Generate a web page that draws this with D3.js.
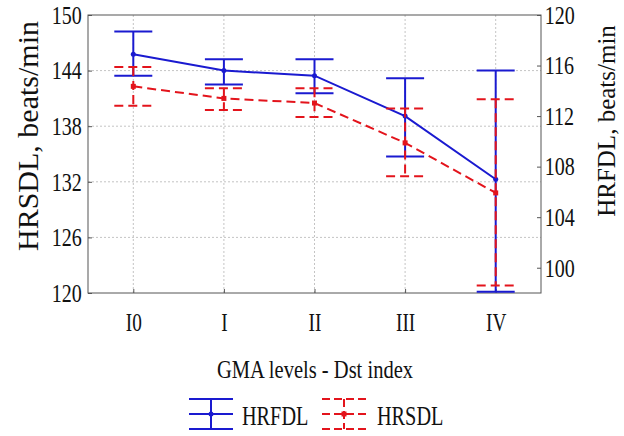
<!DOCTYPE html>
<html>
<head>
<meta charset="utf-8">
<script src="https://cdn.jsdelivr.net/npm/d3@7"></script>
<style>
  body { margin: 0; background: #fff; }
  text { font-family: "Liberation Serif", "Times New Roman", serif; fill: #111; }
</style>
</head>
<body>
<div id="chart-container"></div>
<script>
const categories = ['I0', 'I', 'II', 'III', 'IV'];

// HRFDL (blue, right axis)
const hrfdlMean = [116.9, 115.6, 115.2, 112.0, 107.0];
const hrfdlUpper = [118.7, 116.5, 116.5, 115.0, 115.6];
const hrfdlLower = [115.2, 114.5, 113.8, 108.8, 98.1];

// HRSDL (red, left axis)
const hrsdlMean = [142.3, 141.0, 140.5, 136.2, 130.8];
const hrsdlUpper = [144.4, 142.1, 142.1, 139.9, 140.9];
const hrsdlLower = [140.2, 139.75, 139.0, 132.6, 120.8];

const leftTicks = [120, 126, 132, 138, 144, 150];
const rightTicks = [100, 104, 108, 112, 116, 120];

const blue = '#1a1ad0';
const red = '#e3141c';
const squeeze = 'scale(0.77,1)';

displayChart();

function displayChart() {
  const width = 624;
  const height = 436;
  const margin = { top: 15, right: 83, bottom: 143, left: 88 };
  const plotRight = width - margin.right;
  const plotBottom = height - margin.bottom;

  const svg = d3.select('#chart-container')
      .append('svg')
      .attr('width', width)
      .attr('height', height);

  const x = d3.scalePoint(categories, [margin.left, plotRight]).padding(0.5);
  const yLeft = d3.scaleLinear([120, 150], [plotBottom, margin.top]);
  const yRight = d3.scaleLinear([98, 120], [plotBottom, margin.top]);

  // grid
  svg.append('g')
      .selectAll('line')
      .data(leftTicks.slice(1, -1))
      .join('line')
      .attr('x1', margin.left).attr('x2', plotRight)
      .attr('y1', d => yLeft(d)).attr('y2', d => yLeft(d))
      .attr('stroke', '#c4c4c4')
      .attr('stroke-dasharray', '2,2');

  svg.append('g')
      .selectAll('line')
      .data(categories)
      .join('line')
      .attr('x1', d => x(d)).attr('x2', d => x(d))
      .attr('y1', margin.top).attr('y2', plotBottom)
      .attr('stroke', '#c4c4c4')
      .attr('stroke-dasharray', '2,2');

  // axes
  const leftAxis = svg.append('g')
      .attr('transform', `translate(${margin.left},0)`)
      .call(d3.axisLeft(yLeft).tickValues(leftTicks).tickSize(-4).tickSizeOuter(0).tickPadding(8));

  const rightAxis = svg.append('g')
      .attr('transform', `translate(${plotRight},0)`)
      .call(d3.axisRight(yRight).tickValues(rightTicks).tickSize(-4).tickSizeOuter(0).tickPadding(5));

  const bottomAxis = svg.append('g')
      .attr('transform', `translate(0,${plotBottom})`)
      .call(d3.axisBottom(x).tickSize(-4).tickSizeOuter(0));

  [leftAxis, rightAxis, bottomAxis].forEach(g => {
    g.selectAll('.domain').remove();
    g.selectAll('.tick line').attr('stroke', '#555');
    g.selectAll('text')
        .attr('font-family', '"Liberation Serif", serif')
        .attr('font-size', 26)
        .attr('fill', '#111')
        .attr('transform', squeeze);
  });
  bottomAxis.selectAll('text')
      .attr('y', 29)
      .attr('dy', '0.35em')
      .attr('font-size', 25);

  // frame
  svg.append('rect')
      .attr('x', margin.left)
      .attr('y', margin.top)
      .attr('width', plotRight - margin.left)
      .attr('height', plotBottom - margin.top)
      .attr('fill', 'none')
      .attr('stroke', '#555')
      .attr('stroke-width', 1);

  drawSeries(svg, x, yRight, hrfdlMean, hrfdlUpper, hrfdlLower, blue, null, 'circle');
  drawSeries(svg, x, yLeft, hrsdlMean, hrsdlUpper, hrsdlLower, red, '9,5', 'square');

  // axis titles
  svg.append('text')
      .text('HRSDL, beats/min')
      .attr('transform', 'translate(38,136) rotate(-90)')
      .attr('text-anchor', 'middle')
      .attr('font-size', 30);

  svg.append('text')
      .text('HRFDL, beats/min')
      .attr('transform', 'translate(615,121) rotate(-90)')
      .attr('text-anchor', 'middle')
      .attr('font-size', 25);

  svg.append('g')
      .attr('transform', 'translate(315,378)')
    .append('text')
      .text('GMA levels - Dst index')
      .attr('text-anchor', 'middle')
      .attr('font-size', 26)
      .attr('transform', 'scale(0.79,1)');

  displayLegend(svg);
}

function drawSeries(svg, x, y, mean, upper, lower, color, dash, marker) {
  const g = svg.append('g');
  const capHalf = 19;
  const rows = categories.map((c, i) => ({ c, m: mean[i], hi: upper[i], lo: lower[i] }));

  const line = d3.line()
      .x(d => x(d.c))
      .y(d => y(d.m));

  g.append('path')
      .datum(rows)
      .attr('d', line)
      .attr('fill', 'none')
      .attr('stroke', color)
      .attr('stroke-width', 2)
      .attr('stroke-dasharray', dash);

  g.selectAll('.bar')
      .data(rows)
      .join('line')
      .attr('x1', d => x(d.c)).attr('x2', d => x(d.c))
      .attr('y1', d => y(d.hi)).attr('y2', d => y(d.lo))
      .attr('stroke', color)
      .attr('stroke-width', 2)
      .attr('stroke-dasharray', dash);

  ['hi', 'lo'].forEach(key => {
    g.selectAll('.cap-' + key)
        .data(rows)
        .join('line')
        .attr('x1', d => x(d.c) - capHalf).attr('x2', d => x(d.c) + capHalf)
        .attr('y1', d => y(d[key])).attr('y2', d => y(d[key]))
        .attr('stroke', color)
        .attr('stroke-width', 2)
        .attr('stroke-dasharray', dash);
  });

  if (marker === 'circle') {
    g.selectAll('circle')
        .data(rows)
        .join('circle')
        .attr('cx', d => x(d.c))
        .attr('cy', d => y(d.m))
        .attr('r', 2.5)
        .attr('fill', color);
  } else {
    g.selectAll('rect')
        .data(rows)
        .join('rect')
        .attr('x', d => x(d.c) - 2.5)
        .attr('y', d => y(d.m) - 2.5)
        .attr('width', 5)
        .attr('height', 5)
        .attr('fill', color);
  }
}

function displayLegend(svg) {
  const items = [
    { name: 'HRFDL', color: blue, dash: null, cx: 211, tx: 242, marker: 'circle' },
    { name: 'HRSDL', color: red, dash: '8,4', cx: 344, tx: 377, marker: 'square' }
  ];
  const midY = 414;

  items.forEach(it => {
    const g = svg.append('g');
    [-15, 0, 15].forEach(dy => {
      g.append('line')
          .attr('x1', it.cx - 22).attr('x2', it.cx + 22)
          .attr('y1', midY + dy).attr('y2', midY + dy)
          .attr('stroke', it.color)
          .attr('stroke-width', 2)
          .attr('stroke-dasharray', it.dash);
    });
    g.append('line')
        .attr('x1', it.cx).attr('x2', it.cx)
        .attr('y1', midY - 15).attr('y2', midY + 15)
        .attr('stroke', it.color)
        .attr('stroke-width', 2)
        .attr('stroke-dasharray', it.dash);
    if (it.marker === 'circle') {
      g.append('circle').attr('cx', it.cx).attr('cy', midY).attr('r', 2.5).attr('fill', it.color);
    } else {
      g.append('rect').attr('x', it.cx - 2.5).attr('y', midY - 2.5)
          .attr('width', 5).attr('height', 5).attr('fill', it.color);
    }
    svg.append('g')
        .attr('transform', `translate(${it.tx},425)`)
      .append('text')
        .text(it.name)
        .attr('font-size', 27)
        .attr('transform', 'scale(0.75,1)');
  });
}
</script>
</body>
</html>
